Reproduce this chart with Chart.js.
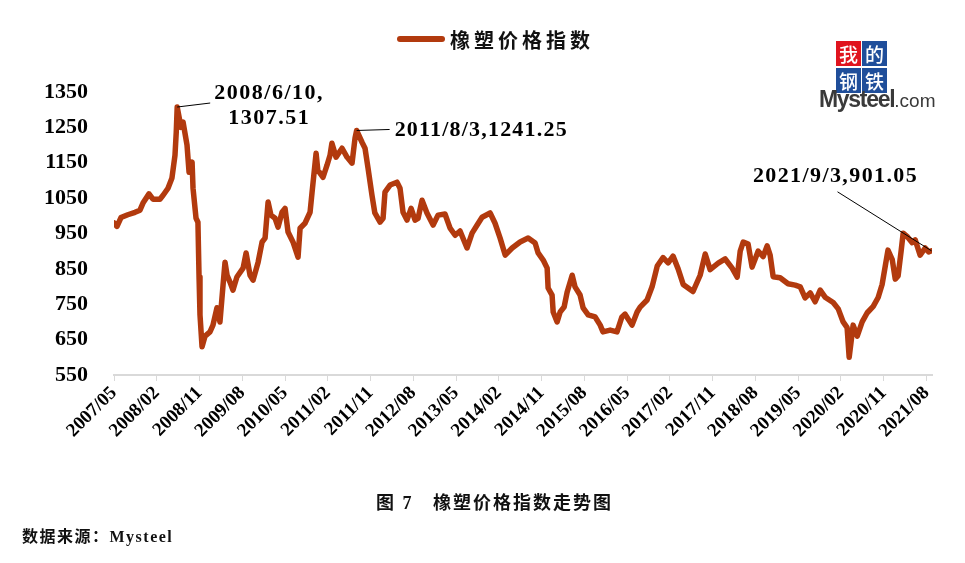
<!DOCTYPE html>
<html>
<head>
<meta charset="utf-8">
<title>橡塑价格指数走势图</title>
<script src="https://cdn.jsdelivr.net/npm/chart.js@4.4.0/dist/chart.umd.min.js"></script>
<style>
    body { margin: 0; background: #fff; }
    #wrap { position: relative; width: 965px; height: 563px; overflow: hidden; }
    #chart { position: absolute; left: 0; top: 0; }
    .legend { position: absolute; left: 397px; top: 26px; height: 26px; display: flex; align-items: center; }
    .legend-line { display: inline-block; width: 48px; height: 6px; border-radius: 3px; background: #b23a0e; }
    .legend-text { margin-left: 5px; font: bold 20px "Noto Sans CJK SC", sans-serif; letter-spacing: 4px; color: #111; }
    .logo { position: absolute; left: 836px; top: 41px; width: 52px; }
    .logo span { position: absolute; width: 25px; height: 25px; color: #fff; background: #1f4e9a;
        font: 500 19px "Noto Sans CJK SC", sans-serif; line-height: 25px; text-align: center; }
    .logo .red { background: #e0141e; }
    .brand { position: absolute; left: 819px; top: 86px; font: bold 23px "Liberation Sans", Arial, sans-serif;
        letter-spacing: -1.3px; color: #3a3a3a; }
    .brand small { font-size: 19px; font-weight: normal; letter-spacing: 0; }
    .caption { position: absolute; left: 376px; top: 488px; font: bold 18px "Liberation Serif", "Noto Sans CJK SC", serif;
        letter-spacing: 2px; color: #111; white-space: pre; }
    .source { position: absolute; left: 22px; top: 523px; font: bold 16px "Liberation Serif", "Noto Sans CJK SC", serif;
        letter-spacing: 1.5px; color: #111; }
</style>
</head>
<body>
<div id="wrap">
    <canvas id="chart" width="965" height="563"></canvas>
    <div class="legend"><span class="legend-line"></span><span class="legend-text">橡塑价格指数</span></div>
    <div class="logo">
        <span class="red" style="left:0;top:0">我</span>
        <span style="left:26px;top:0">的</span>
        <span style="left:0;top:27px">钢</span>
        <span style="left:26px;top:27px">铁</span>
    </div>
    <div class="brand">Mysteel<small>.com</small></div>
    <div class="caption">图 7   橡塑价格指数走势图</div>
    <div class="source">数据来源：Mysteel</div>
</div>

<script>
const seriesName = "橡塑价格指数";

const dates = [
    "2007/05/01", "2007/05/20", "2007/06/15", "2007/07/28", "2007/09/14", "2007/10/15", "2007/11/04", "2007/12/12",
    "2008/01/07", "2008/02/21", "2008/03/11", "2008/04/12", "2008/05/07", "2008/05/26", "2008/06/04", "2008/06/10",
    "2008/07/04", "2008/07/17", "2008/08/12", "2008/08/25", "2008/09/14", "2008/09/20", "2008/10/09", "2008/10/21",
    "2008/10/28", "2008/11/04", "2008/11/17", "2008/12/06", "2009/01/07", "2009/01/26", "2009/02/21", "2009/03/10",
    "2009/03/28", "2009/04/12", "2009/04/25", "2009/05/14", "2009/06/02", "2009/06/27", "2009/08/06", "2009/08/25",
    "2009/09/20", "2009/10/09", "2009/11/11", "2009/12/06", "2009/12/25", "2010/01/14", "2010/02/02", "2010/02/28",
    "2010/03/17", "2010/04/12", "2010/05/01", "2010/05/20", "2010/06/21", "2010/07/23", "2010/08/06", "2010/09/07",
    "2010/10/09", "2010/10/21", "2010/11/17", "2010/11/28", "2011/01/01", "2011/01/26", "2011/02/15", "2011/02/27",
    "2011/03/23", "2011/05/01", "2011/06/02", "2011/07/04", "2011/07/23", "2011/08/03", "2011/09/07", "2011/09/26",
    "2011/10/15", "2011/11/10", "2011/11/28", "2012/01/01", "2012/01/20", "2012/02/02", "2012/03/04", "2012/04/18",
    "2012/05/07", "2012/05/26", "2012/06/21", "2012/07/17", "2012/08/12", "2012/09/01", "2012/09/26", "2012/10/27",
    "2012/12/06", "2013/01/07", "2013/02/21", "2013/03/23", "2013/04/25", "2013/05/26", "2013/07/10", "2013/08/12",
    "2013/09/14", "2013/10/15", "2013/12/06", "2014/01/07", "2014/02/09", "2014/03/11", "2014/04/25", "2014/06/15",
    "2014/08/06", "2014/09/20", "2014/10/09", "2014/11/11", "2014/12/06", "2014/12/12", "2015/01/07", "2015/01/14",
    "2015/02/09", "2015/02/28", "2015/03/23", "2015/04/12", "2015/05/14", "2015/06/02", "2015/07/04", "2015/07/23",
    "2015/08/25", "2015/10/09", "2015/11/11", "2015/11/28", "2016/01/14", "2016/02/27", "2016/03/28", "2016/04/18",
    "2016/06/02", "2016/07/04", "2016/07/23", "2016/09/07", "2016/10/09", "2016/11/11", "2016/12/18", "2017/01/20",
    "2017/02/21", "2017/03/23", "2017/04/25", "2017/06/27", "2017/08/12", "2017/09/14", "2017/10/15", "2017/12/06",
    "2018/01/20", "2018/03/04", "2018/04/06", "2018/04/25", "2018/05/14", "2018/06/15", "2018/07/10", "2018/08/18",
    "2018/09/20", "2018/10/15", "2018/11/04", "2018/11/23", "2019/01/07", "2019/02/27", "2019/04/12", "2019/05/14",
    "2019/06/15", "2019/07/17", "2019/08/18", "2019/09/20", "2019/10/21", "2019/12/12", "2020/01/14", "2020/02/15",
    "2020/03/10", "2020/03/23", "2020/04/18", "2020/05/14", "2020/06/15", "2020/07/17", "2020/08/25", "2020/09/26",
    "2020/10/21", "2020/11/11", "2020/11/28", "2020/12/25", "2021/01/14", "2021/02/02", "2021/02/21", "2021/03/04",
    "2021/03/28", "2021/05/01", "2021/05/20", "2021/06/21", "2021/07/23", "2021/08/15", "2021/09/03"
];

const values = [
    980, 970, 995, 1003, 1010, 1016, 1036, 1062,
    1047, 1047, 1058, 1078, 1107, 1171, 1236, 1307.51,
    1250, 1265, 1200, 1123, 1152, 1078, 993, 982,
    827, 720, 630, 660, 672, 691, 740, 700,
    796, 869, 832, 812, 790, 827, 852, 895,
    832, 818, 869, 926, 937, 1039, 1002, 993,
    968, 1010, 1021, 954, 926, 883, 965, 979,
    1010, 1064, 1177, 1129, 1109, 1143, 1171, 1205,
    1166, 1191, 1166, 1149, 1220, 1241.25, 1208, 1191,
    1135, 1058, 1008, 982, 993, 1067, 1087, 1095,
    1078, 1010, 988, 1021, 988, 993, 1044, 1008,
    974, 1002, 1005, 965, 945, 957, 909, 951,
    974, 996, 1008, 979, 937, 889, 909, 926,
    937, 923, 895, 875, 852, 796, 776, 728,
    700, 728, 742, 784, 832, 799, 776, 740,
    720, 714, 691, 672, 677, 672, 714, 722,
    691, 728, 742, 762, 800, 858, 882, 867,
    886, 850, 806, 786, 832, 892, 848, 866,
    878, 852, 827, 900, 926, 920, 855, 900,
    885, 915, 889, 828, 825, 808, 804, 799,
    768, 782, 757, 790, 770, 755, 737, 700,
    684, 600, 691, 660, 700, 726, 744, 769,
    806, 858, 903, 876, 821, 830, 900, 951,
    942, 924, 932, 889, 909, 898, 901.05
];

const tickLabels = [
    "2007/05", "2008/02", "2008/11", "2009/08", "2010/05", "2011/02", "2011/11", "2012/08", "2013/05", "2014/02",
    "2014/11", "2015/08", "2016/05", "2017/02", "2017/11", "2018/08", "2019/05", "2020/02", "2020/11", "2021/08"
];

const axisEnd = "2021/09/06";
const noteDates = ["2008/06/10", "2011/08/03", "2021/09/03"];

// layout of the three call-outs, relative to their point
const noteStyles = [
    { lx: 33, ly: -4, tx: 92, ty: -14, align: "center", ls: "1.5px", twoLines: true },
    { lx: 33, ly: -1, tx: 38, ty: 0, align: "left", ls: "1.2px", twoLines: false },
    { lx: -94, ly: -59, tx: -96, ty: -75, align: "center", ls: "1.4px", twoLines: false }
];

const lineColor = "#b23a0e";


function monthIndex(s) {
    const p = s.split("/").map(Number);
    return (p[0] - 2007) * 12 + (p[1] - 5) + ((p[2] || 1) - 1) / 30;
}

function noteText(d, v, twoLines) {
    const p = d.split("/").map(Number);
    const head = `${p[0]}/${p[1]}/${p[2]},`;
    return twoLines ? [head, v.toFixed(2)] : [head + v.toFixed(2)];
}

const pointNotes = {
    id: "pointNotes",
    afterDatasetsDraw(chart) {
        const ctx = chart.ctx;
        const xs = chart.scales.x;
        const ys = chart.scales.y;
        noteDates.forEach((d, i) => {
            const k = dates.indexOf(d);
            const s = noteStyles[i];
            const px = xs.getPixelForValue(monthIndex(d));
            const py = ys.getPixelForValue(values[k]);
            ctx.save();
            ctx.strokeStyle = "#000";
            ctx.lineWidth = 1;
            ctx.beginPath();
            ctx.moveTo(px, py);
            ctx.lineTo(px + s.lx, py + s.ly);
            ctx.stroke();
            ctx.font = 'bold 22px "Liberation Serif", serif';
            ctx.letterSpacing = s.ls;
            ctx.fillStyle = "#000";
            ctx.textAlign = s.align;
            ctx.textBaseline = "middle";
            noteText(d, values[k], s.twoLines).forEach((t, j) => {
                ctx.fillText(t, px + s.tx, py + s.ty + j * 25);
            });
            ctx.restore();
        });
    }
};


document.addEventListener("DOMContentLoaded", () => {
    const points = dates.map((d, i) => ({ x: monthIndex(d), y: values[i] }));

    new Chart(document.querySelector("#chart"), {
        type: "line",
        data: {
            datasets: [{
                label: seriesName,
                data: points,
                borderColor: lineColor,
                borderWidth: 5.5,
                pointRadius: 0,
                tension: 0,
                borderJoinStyle: "round",
                borderCapStyle: "round"
            }]
        },
        options: {
            responsive: false,
            animation: false,
            layout: { padding: { top: 92, right: 33, left: 0, bottom: 0 } },
            plugins: {
                legend: { display: false },
                tooltip: { enabled: false }
            },
            scales: {
                x: {
                    type: "linear",
                    min: 0,
                    max: monthIndex(axisEnd),
                    afterBuildTicks: (scale) => {
                        scale.ticks = tickLabels.map(l => ({ value: monthIndex(l) }));
                    },
                    afterFit: (scale) => { scale.height = 188; },
                    ticks: {
                        autoSkip: false,
                        minRotation: 45,
                        maxRotation: 45,
                        padding: 1,
                        color: "#000",
                        font: { family: '"Liberation Serif", serif', size: 19, weight: "bold" },
                        callback: (v) => tickLabels.find(l => Math.abs(monthIndex(l) - v) < 0.01) || ""
                    },
                    grid: { drawOnChartArea: false, drawTicks: true, tickLength: 6, color: "#d9d9d9" },
                    border: { color: "#d9d9d9", width: 2 }
                },
                y: {
                    min: 550,
                    max: 1350,
                    afterFit: (scale) => { scale.width = 114; },
                    ticks: {
                        stepSize: 100,
                        padding: 26,
                        color: "#000",
                        font: { family: '"Liberation Serif", serif', size: 22, weight: "bold" },
                        callback: (v) => String(v)
                    },
                    grid: { display: false, drawTicks: false },
                    border: { display: false }
                }
            }
        },
        plugins: [pointNotes]
    });
});
</script>
</body>
</html>
